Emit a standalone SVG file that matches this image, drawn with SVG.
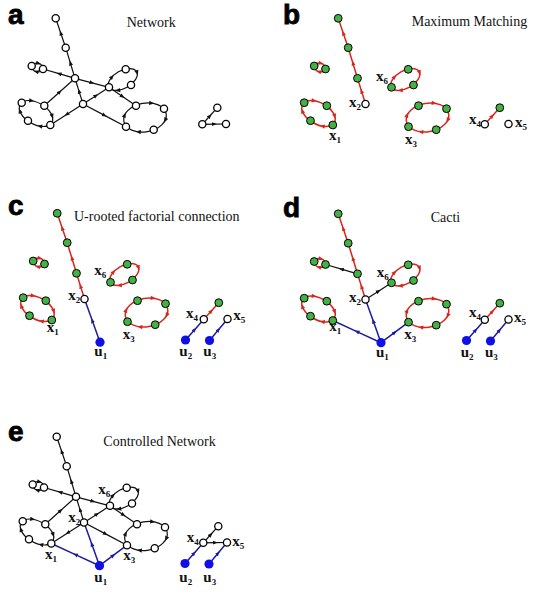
<svg xmlns="http://www.w3.org/2000/svg" xmlns:xlink="http://www.w3.org/1999/xlink" width="536" height="599" viewBox="0 0 536 599">
<style>
.e{fill:none;stroke:#111;stroke-width:1.2;marker-mid:url(#mk)}
.er{fill:none;stroke:#d8261c;stroke-width:1.5;marker-mid:url(#mr)}
.eb{fill:none;stroke:#1c1c9c;stroke-width:1.5;marker-mid:url(#mb)}
.ck{stroke:#111;fill:#111;stroke-width:1.2}
.cr{stroke:#d8261c;fill:#d8261c;stroke-width:1.5}
.nw{fill:#fff;stroke:#000;stroke-width:1.3}
.ng{fill:#44b144;stroke:#000;stroke-width:1}
.nb{fill:#1010e6;stroke:none}
.pl{font-family:"Liberation Sans",Arial,sans-serif;font-weight:bold;font-size:28px;fill:#000;stroke:#000;stroke-width:0.8}
.tt{font-family:"Liberation Serif","Times New Roman",serif;font-size:14px;fill:#111}
.lb{font-family:"Liberation Serif","Times New Roman",serif;font-weight:bold;font-size:15px;fill:#111}
.sb{font-size:9px}
</style>
<defs>
<marker id="mk" viewBox="0 0 10 10" refX="5" refY="5" markerWidth="5" markerHeight="5" markerUnits="userSpaceOnUse" orient="auto"><path d="M0,1 L10,5 L0,9Z" fill="#111"/></marker>
<marker id="mr" viewBox="0 0 10 10" refX="5" refY="5" markerWidth="5" markerHeight="5" markerUnits="userSpaceOnUse" orient="auto"><path d="M0,1 L10,5 L0,9Z" fill="#d8261c"/></marker>
<marker id="mb" viewBox="0 0 10 10" refX="5" refY="5" markerWidth="5" markerHeight="5" markerUnits="userSpaceOnUse" orient="auto"><path d="M0,1 L10,5 L0,9Z" fill="#1c1c9c"/></marker>
<path id="ah" d="M2.6,0 L-2.4,-2.1 L-2.4,2.1Z" stroke="none"/>
<g id="cL" transform="translate(36,113.5) rotate(30)"><ellipse rx="18.3" ry="10.7" fill="none"/><use href="#ah" transform="translate(-10.23,-8.87) rotate(-21.5)"/><use href="#ah" transform="translate(15.43,-5.75) rotate(42.5)"/><use href="#ah" transform="translate(9.72,9.06) rotate(159.9)"/><use href="#ah" transform="translate(-15.24,5.92) rotate(-138.6)"/></g>
<g id="cB" transform="translate(122.8,79.5) rotate(-29.4)"><ellipse rx="15.9" ry="8.8" fill="none"/><use href="#ah" transform="translate(-8.05,-7.59) rotate(-18)"/><use href="#ah" transform="translate(15.79,1.04) rotate(102.1)"/><use href="#ah" transform="translate(-9.62,7.01) rotate(-157.2)"/></g>
<g id="cR" transform="translate(145,117.5) rotate(-10)"><ellipse rx="21.5" ry="14.3" fill="none"/><use href="#ah" transform="translate(8.97,-13) rotate(17)"/><use href="#ah" transform="translate(19.44,6.12) rotate(125.4)"/><use href="#ah" transform="translate(-8.97,13) rotate(-163)"/><use href="#ah" transform="translate(-19.65,-5.81) rotate(-56.3)"/></g>
<g id="cP" transform="translate(37.35,67.5) rotate(14.9)"><ellipse rx="5.85" ry="4.3" fill="none"/><use href="#ah" transform="translate(0,-4.3)"/><use href="#ah" transform="translate(0,4.3) rotate(180)"/></g>
</defs>
<rect width="536" height="599" fill="#fff"/>

<!-- titles and panel letters -->
<g id="titles">
<text class="pl" x="8" y="24">a</text>
<text class="pl" x="283" y="24">b</text>
<text class="pl" x="8" y="215">c</text>
<text class="pl" x="283" y="216.5">d</text>
<text class="pl" x="8" y="440.5">e</text>
<text class="tt" x="126.7" y="27">Network</text>
<text class="tt" x="411.7" y="26" fill="#333">Maximum Matching</text>
<text class="tt" x="74" y="221">U-rooted factorial connection</text>
<text class="tt" x="430.7" y="221.5">Cacti</text>
<text class="tt" x="103.3" y="446">Controlled Network</text>
</g>

<!-- Panel a -->
<g id="panel-a">
<g id="a-connectors">
<path class="e" d="M65.7,47.7 L60.7,33 L55.7,18.3"/>
<path class="e" d="M75,78.3 L70.35,63 L65.7,47.7"/>
<path class="e" d="M83,104 L79,91.15 L75,78.3"/>
<path class="e" d="M75,78.3 L59,73.65 L43,69"/>
<path class="e" d="M83,104 L96,95.65 L109,87.3"/>
<path class="e" d="M75,78.3 L92,82.8 L109,87.3"/>
<path class="e" d="M44.3,105.7 L59.65,92 L75,78.3"/>
<path class="e" d="M83,104 L66.65,114.5 L50.3,125"/>
<path class="e" d="M83,104 L104.5,115.35 L126,126.7"/>
<path class="e" d="M109,87.3 L122.5,96.5 L136,105.7"/>
<path class="e" d="M202.3,124.3 L209.8,116 L217.3,107.7"/>
<path class="e" d="M202.3,124.3 L214.15,124.15 L226,124"/>
<use href="#cL" class="ck"/><use href="#cB" class="ck"/><use href="#cR" class="ck"/><use href="#cP" class="ck"/>
</g>
<g id="a-nodes">
<g id="a-T"><circle class="nw" cx="55.7" cy="18.3" r="3.6"/></g>
<g id="a-M"><circle class="nw" cx="65.7" cy="47.7" r="3.6"/></g>
<g id="a-A"><circle class="nw" cx="75" cy="78.3" r="3.6"/></g>
<g id="a-P1"><circle class="nw" cx="31.7" cy="66" r="3.6"/></g>
<g id="a-P2"><circle class="nw" cx="43" cy="69" r="3.6"/></g>
<g id="a-x6"><circle class="nw" cx="109" cy="87.3" r="3.6"/></g>
<g id="a-Q1"><circle class="nw" cx="125.7" cy="69.3" r="3.6"/></g>
<g id="a-Q2"><circle class="nw" cx="131" cy="85" r="3.6"/></g>
<g id="a-x2"><circle class="nw" cx="83" cy="104" r="3.6"/></g>
<g id="a-L1"><circle class="nw" cx="21.7" cy="102.7" r="3.6"/></g>
<g id="a-L2"><circle class="nw" cx="44.3" cy="105.7" r="3.6"/></g>
<g id="a-x1"><circle class="nw" cx="50.3" cy="125" r="3.6"/></g>
<g id="a-L4"><circle class="nw" cx="28" cy="120.7" r="3.6"/></g>
<g id="a-R1"><circle class="nw" cx="136" cy="105.7" r="3.6"/></g>
<g id="a-R2"><circle class="nw" cx="164" cy="108.7" r="3.6"/></g>
<g id="a-R3"><circle class="nw" cx="153.7" cy="129.7" r="3.6"/></g>
<g id="a-x3"><circle class="nw" cx="126" cy="126.7" r="3.6"/></g>
<g id="a-S1"><circle class="nw" cx="217.3" cy="107.7" r="3.6"/></g>
<g id="a-x4"><circle class="nw" cx="202.3" cy="124.3" r="3.6"/></g>
<g id="a-x5"><circle class="nw" cx="226" cy="124" r="3.6"/></g>
</g>
</g>

<!-- Panel b -->
<g id="panel-b" transform="translate(282.5,0)">
<g id="b-connectors">
<path class="er" d="M65.7,47.7 L60.7,33 L55.7,18.3"/>
<path class="er" d="M75,78.3 L70.35,63 L65.7,47.7"/>
<path class="er" d="M83,104 L79,91.15 L75,78.3"/>
<path class="er" d="M202.3,124.3 L209.8,116 L217.3,107.7"/>
<use href="#cL" class="cr"/><use href="#cB" class="cr"/><use href="#cR" class="cr"/><use href="#cP" class="cr"/>
</g>
<g id="b-nodes">
<g id="b-T"><circle class="ng" cx="55.7" cy="18.3" r="3.9"/></g>
<g id="b-M"><circle class="ng" cx="65.7" cy="47.7" r="3.9"/></g>
<g id="b-A"><circle class="ng" cx="75" cy="78.3" r="3.9"/></g>
<g id="b-P1"><circle class="ng" cx="31.7" cy="66" r="3.9"/></g>
<g id="b-P2"><circle class="ng" cx="43" cy="69" r="3.9"/></g>
<g id="b-x6"><circle class="ng" cx="109" cy="87.3" r="3.9"/></g>
<g id="b-Q1"><circle class="ng" cx="125.7" cy="69.3" r="3.9"/></g>
<g id="b-Q2"><circle class="ng" cx="131" cy="85" r="3.9"/></g>
<g id="b-x2"><circle class="nw" cx="83" cy="104" r="3.6"/></g>
<g id="b-L1"><circle class="ng" cx="21.7" cy="102.7" r="3.9"/></g>
<g id="b-L2"><circle class="ng" cx="44.3" cy="105.7" r="3.9"/></g>
<g id="b-x1"><circle class="ng" cx="50.3" cy="125" r="3.9"/></g>
<g id="b-L4"><circle class="ng" cx="28" cy="120.7" r="3.9"/></g>
<g id="b-R1"><circle class="ng" cx="136" cy="105.7" r="3.9"/></g>
<g id="b-R2"><circle class="ng" cx="164" cy="108.7" r="3.9"/></g>
<g id="b-R3"><circle class="ng" cx="153.7" cy="129.7" r="3.9"/></g>
<g id="b-x3"><circle class="ng" cx="126" cy="126.7" r="3.9"/></g>
<g id="b-S1"><circle class="ng" cx="217.3" cy="107.7" r="3.9"/></g>
<g id="b-x4"><circle class="nw" cx="202.3" cy="124.3" r="3.6"/></g>
<g id="b-x5"><circle class="nw" cx="226" cy="124" r="3.6"/></g>
</g>
</g>

<!-- Panel c -->
<g id="panel-c" transform="translate(1.5,195)">
<g id="c-connectors">
<path class="er" d="M65.7,47.7 L60.7,33 L55.7,18.3"/>
<path class="er" d="M75,78.3 L70.35,63 L65.7,47.7"/>
<path class="er" d="M83,104 L79,91.15 L75,78.3"/>
<path class="er" d="M202.3,124.3 L209.8,116 L217.3,107.7"/>
<path class="eb" d="M98.5,147.2 L90.75,125.6 L83,104"/>
<path class="eb" d="M184,145 L193.15,134.65 L202.3,124.3"/>
<path class="eb" d="M208,145.5 L217,134.75 L226,124"/>
<use href="#cL" class="cr"/><use href="#cB" class="cr"/><use href="#cR" class="cr"/><use href="#cP" class="cr"/>
</g>
<g id="c-nodes">
<g id="c-T"><circle class="ng" cx="55.7" cy="18.3" r="3.9"/></g>
<g id="c-M"><circle class="ng" cx="65.7" cy="47.7" r="3.9"/></g>
<g id="c-A"><circle class="ng" cx="75" cy="78.3" r="3.9"/></g>
<g id="c-P1"><circle class="ng" cx="31.7" cy="66" r="3.9"/></g>
<g id="c-P2"><circle class="ng" cx="43" cy="69" r="3.9"/></g>
<g id="c-x6"><circle class="ng" cx="109" cy="87.3" r="3.9"/></g>
<g id="c-Q1"><circle class="ng" cx="125.7" cy="69.3" r="3.9"/></g>
<g id="c-Q2"><circle class="ng" cx="131" cy="85" r="3.9"/></g>
<g id="c-x2"><circle class="nw" cx="83" cy="104" r="3.6"/></g>
<g id="c-L1"><circle class="ng" cx="21.7" cy="102.7" r="3.9"/></g>
<g id="c-L2"><circle class="ng" cx="44.3" cy="105.7" r="3.9"/></g>
<g id="c-x1"><circle class="ng" cx="50.3" cy="125" r="3.9"/></g>
<g id="c-L4"><circle class="ng" cx="28" cy="120.7" r="3.9"/></g>
<g id="c-R1"><circle class="ng" cx="136" cy="105.7" r="3.9"/></g>
<g id="c-R2"><circle class="ng" cx="164" cy="108.7" r="3.9"/></g>
<g id="c-R3"><circle class="ng" cx="153.7" cy="129.7" r="3.9"/></g>
<g id="c-x3"><circle class="ng" cx="126" cy="126.7" r="3.9"/></g>
<g id="c-S1"><circle class="ng" cx="217.3" cy="107.7" r="3.9"/></g>
<g id="c-x4"><circle class="nw" cx="202.3" cy="124.3" r="3.6"/></g>
<g id="c-x5"><circle class="nw" cx="226" cy="124" r="3.6"/></g>
<g id="c-u1"><circle class="nb" cx="98.5" cy="147.2" r="4.6"/></g>
<g id="c-u2"><circle class="nb" cx="184" cy="145" r="4.6"/></g>
<g id="c-u3"><circle class="nb" cx="208" cy="145.5" r="4.6"/></g>
</g>
</g>

<!-- Panel d -->
<g id="panel-d" transform="translate(282.5,195.5)">
<g id="d-connectors">
<path class="er" d="M65.7,47.7 L60.7,33 L55.7,18.3"/>
<path class="er" d="M75,78.3 L70.35,63 L65.7,47.7"/>
<path class="er" d="M83,104 L79,91.15 L75,78.3"/>
<path class="er" d="M202.3,124.3 L209.8,116 L217.3,107.7"/>
<path class="e" d="M75,78.3 L59,73.65 L43,69"/>
<path class="e" d="M83,104 L96,95.65 L109,87.3"/>
<path class="eb" d="M98.5,147.2 L90.75,125.6 L83,104"/>
<path class="eb" d="M98.5,147.2 L74.4,136.1 L50.3,125"/>
<path class="eb" d="M98.5,147.2 L112.25,136.95 L126,126.7"/>
<path class="eb" d="M184,145 L193.15,134.65 L202.3,124.3"/>
<path class="eb" d="M208,145.5 L217,134.75 L226,124"/>
<use href="#cL" class="cr"/><use href="#cB" class="cr"/><use href="#cR" class="cr"/><use href="#cP" class="cr"/>
</g>
<g id="d-nodes">
<g id="d-T"><circle class="ng" cx="55.7" cy="18.3" r="3.9"/></g>
<g id="d-M"><circle class="ng" cx="65.7" cy="47.7" r="3.9"/></g>
<g id="d-A"><circle class="ng" cx="75" cy="78.3" r="3.9"/></g>
<g id="d-P1"><circle class="ng" cx="31.7" cy="66" r="3.9"/></g>
<g id="d-P2"><circle class="ng" cx="43" cy="69" r="3.9"/></g>
<g id="d-x6"><circle class="ng" cx="109" cy="87.3" r="3.9"/></g>
<g id="d-Q1"><circle class="ng" cx="125.7" cy="69.3" r="3.9"/></g>
<g id="d-Q2"><circle class="ng" cx="131" cy="85" r="3.9"/></g>
<g id="d-x2"><circle class="nw" cx="83" cy="104" r="3.6"/></g>
<g id="d-L1"><circle class="ng" cx="21.7" cy="102.7" r="3.9"/></g>
<g id="d-L2"><circle class="ng" cx="44.3" cy="105.7" r="3.9"/></g>
<g id="d-x1"><circle class="ng" cx="50.3" cy="125" r="3.9"/></g>
<g id="d-L4"><circle class="ng" cx="28" cy="120.7" r="3.9"/></g>
<g id="d-R1"><circle class="ng" cx="136" cy="105.7" r="3.9"/></g>
<g id="d-R2"><circle class="ng" cx="164" cy="108.7" r="3.9"/></g>
<g id="d-R3"><circle class="ng" cx="153.7" cy="129.7" r="3.9"/></g>
<g id="d-x3"><circle class="ng" cx="126" cy="126.7" r="3.9"/></g>
<g id="d-S1"><circle class="ng" cx="217.3" cy="107.7" r="3.9"/></g>
<g id="d-x4"><circle class="nw" cx="202.3" cy="124.3" r="3.6"/></g>
<g id="d-x5"><circle class="nw" cx="226" cy="124" r="3.6"/></g>
<g id="d-u1"><circle class="nb" cx="98.5" cy="147.2" r="4.6"/></g>
<g id="d-u2"><circle class="nb" cx="184" cy="145" r="4.6"/></g>
<g id="d-u3"><circle class="nb" cx="208" cy="145.5" r="4.6"/></g>
</g>
</g>

<!-- Panel e -->
<g id="panel-e" transform="translate(1,418.5)">
<g id="e-connectors">
<path class="e" d="M65.7,47.7 L60.7,33 L55.7,18.3"/>
<path class="e" d="M75,78.3 L70.35,63 L65.7,47.7"/>
<path class="e" d="M83,104 L79,91.15 L75,78.3"/>
<path class="e" d="M75,78.3 L59,73.65 L43,69"/>
<path class="e" d="M83,104 L96,95.65 L109,87.3"/>
<path class="e" d="M75,78.3 L92,82.8 L109,87.3"/>
<path class="e" d="M44.3,105.7 L59.65,92 L75,78.3"/>
<path class="e" d="M83,104 L66.65,114.5 L50.3,125"/>
<path class="e" d="M83,104 L104.5,115.35 L126,126.7"/>
<path class="e" d="M109,87.3 L122.5,96.5 L136,105.7"/>
<path class="e" d="M202.3,124.3 L209.8,116 L217.3,107.7"/>
<path class="e" d="M202.3,124.3 L214.15,124.15 L226,124"/>
<path class="eb" d="M98.5,147.2 L90.75,125.6 L83,104"/>
<path class="eb" d="M98.5,147.2 L74.4,136.1 L50.3,125"/>
<path class="eb" d="M98.5,147.2 L112.25,136.95 L126,126.7"/>
<path class="eb" d="M184,145 L193.15,134.65 L202.3,124.3"/>
<path class="eb" d="M208,145.5 L217,134.75 L226,124"/>
<use href="#cL" class="ck"/><use href="#cB" class="ck"/><use href="#cR" class="ck"/><use href="#cP" class="ck"/>
</g>
<g id="e-nodes">
<g id="e-T"><circle class="nw" cx="55.7" cy="18.3" r="3.6"/></g>
<g id="e-M"><circle class="nw" cx="65.7" cy="47.7" r="3.6"/></g>
<g id="e-A"><circle class="nw" cx="75" cy="78.3" r="3.6"/></g>
<g id="e-P1"><circle class="nw" cx="31.7" cy="66" r="3.6"/></g>
<g id="e-P2"><circle class="nw" cx="43" cy="69" r="3.6"/></g>
<g id="e-x6"><circle class="nw" cx="109" cy="87.3" r="3.6"/></g>
<g id="e-Q1"><circle class="nw" cx="125.7" cy="69.3" r="3.6"/></g>
<g id="e-Q2"><circle class="nw" cx="131" cy="85" r="3.6"/></g>
<g id="e-x2"><circle class="nw" cx="83" cy="104" r="3.6"/></g>
<g id="e-L1"><circle class="nw" cx="21.7" cy="102.7" r="3.6"/></g>
<g id="e-L2"><circle class="nw" cx="44.3" cy="105.7" r="3.6"/></g>
<g id="e-x1"><circle class="nw" cx="50.3" cy="125" r="3.6"/></g>
<g id="e-L4"><circle class="nw" cx="28" cy="120.7" r="3.6"/></g>
<g id="e-R1"><circle class="nw" cx="136" cy="105.7" r="3.6"/></g>
<g id="e-R2"><circle class="nw" cx="164" cy="108.7" r="3.6"/></g>
<g id="e-R3"><circle class="nw" cx="153.7" cy="129.7" r="3.6"/></g>
<g id="e-x3"><circle class="nw" cx="126" cy="126.7" r="3.6"/></g>
<g id="e-S1"><circle class="nw" cx="217.3" cy="107.7" r="3.6"/></g>
<g id="e-x4"><circle class="nw" cx="202.3" cy="124.3" r="3.6"/></g>
<g id="e-x5"><circle class="nw" cx="226" cy="124" r="3.6"/></g>
<g id="e-u1"><circle class="nb" cx="98.5" cy="147.2" r="4.6"/></g>
<g id="e-u2"><circle class="nb" cx="184" cy="145" r="4.6"/></g>
<g id="e-u3"><circle class="nb" cx="208" cy="145.5" r="4.6"/></g>
</g>
</g>

<!-- labels -->
<g id="labels">
<text class="lb" x="329" y="140">x<tspan class="sb" dy="3">1</tspan></text>
<text class="lb" x="349" y="107">x<tspan class="sb" dy="3">2</tspan></text>
<text class="lb" x="376" y="81">x<tspan class="sb" dy="3">6</tspan></text>
<text class="lb" x="405" y="144">x<tspan class="sb" dy="3">3</tspan></text>
<text class="lb" x="469" y="124">x<tspan class="sb" dy="3">4</tspan></text>
<text class="lb" x="515" y="127">x<tspan class="sb" dy="3">5</tspan></text>

<text class="lb" x="94.3" y="275">x<tspan class="sb" dy="3">6</tspan></text>
<text class="lb" x="68.3" y="300">x<tspan class="sb" dy="3">2</tspan></text>
<text class="lb" x="46.7" y="332">x<tspan class="sb" dy="3">1</tspan></text>
<text class="lb" x="122.7" y="339">x<tspan class="sb" dy="3">3</tspan></text>
<text class="lb" x="186" y="318">x<tspan class="sb" dy="3">4</tspan></text>
<text class="lb" x="233.3" y="320">x<tspan class="sb" dy="3">5</tspan></text>
<text class="lb" x="94.3" y="356">u<tspan class="sb" dy="3">1</tspan></text>
<text class="lb" x="179.3" y="356">u<tspan class="sb" dy="3">2</tspan></text>
<text class="lb" x="203.3" y="356">u<tspan class="sb" dy="3">3</tspan></text>

<text class="lb" x="376.7" y="277">x<tspan class="sb" dy="3">6</tspan></text>
<text class="lb" x="349" y="302">x<tspan class="sb" dy="3">2</tspan></text>
<text class="lb" x="329.3" y="331">x<tspan class="sb" dy="3">1</tspan></text>
<text class="lb" x="404.3" y="339">x<tspan class="sb" dy="3">3</tspan></text>
<text class="lb" x="469" y="317">x<tspan class="sb" dy="3">4</tspan></text>
<text class="lb" x="514" y="322">x<tspan class="sb" dy="3">5</tspan></text>
<text class="lb" x="376" y="357">u<tspan class="sb" dy="3">1</tspan></text>
<text class="lb" x="460.7" y="357">u<tspan class="sb" dy="3">2</tspan></text>
<text class="lb" x="485" y="357">u<tspan class="sb" dy="3">3</tspan></text>

<text class="lb" x="98.3" y="494">x<tspan class="sb" dy="3">6</tspan></text>
<text class="lb" x="68.3" y="522">x<tspan class="sb" dy="3">2</tspan></text>
<text class="lb" x="45" y="559">x<tspan class="sb" dy="3">1</tspan></text>
<text class="lb" x="123.3" y="560">x<tspan class="sb" dy="3">3</tspan></text>
<text class="lb" x="186.7" y="542">x<tspan class="sb" dy="3">4</tspan></text>
<text class="lb" x="232.3" y="546">x<tspan class="sb" dy="3">5</tspan></text>
<text class="lb" x="94.3" y="582">u<tspan class="sb" dy="3">1</tspan></text>
<text class="lb" x="179.3" y="582">u<tspan class="sb" dy="3">2</tspan></text>
<text class="lb" x="203.3" y="582">u<tspan class="sb" dy="3">3</tspan></text>
</g>
</svg>
